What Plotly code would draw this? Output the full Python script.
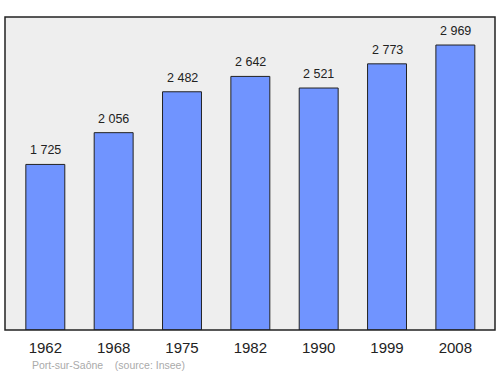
import plotly.graph_objects as go

years = ["1962", "1968", "1975", "1982", "1990", "1999", "2008"]
population = [1725, 2056, 2482, 2642, 2521, 2773, 2969]
labels = ["1 725", "2 056", "2 482", "2 642", "2 521", "2 773", "2 969"]

fig = go.Figure()
fig.add_trace(go.Bar(
    x=list(range(len(years))), y=population, width=0.57,
    marker=dict(color="#7094ff", line=dict(color="#222222", width=1)),
    hoverinfo="skip",
))
for i, (v, t) in enumerate(zip(population, labels)):
    fig.add_annotation(x=i, y=v, text=t, showarrow=False, yanchor="bottom",
                       yshift=5, font=dict(family="Liberation Sans, Arial", size=12.5, color="#222222"))

fig.add_shape(type="rect", xref="paper", yref="paper", x0=0, y0=0, x1=1, y1=1,
              line=dict(color="#222222", width=1.5), layer="above")
fig.add_annotation(xref="paper", yref="paper", x=(30-5)/490, y=-(365-330)/313,
                   xanchor="left", yanchor="middle", showarrow=False,
                   text="Port-sur-Saône    (source: Insee)",
                   font=dict(family="Liberation Sans, Arial", size=10.5, color="#aaaaaa"))

fig.update_layout(
    width=500, height=374,
    margin=dict(l=5, r=5, t=17, b=44),
    paper_bgcolor="white", plot_bgcolor="#eeeeee",
    showlegend=False,
    xaxis=dict(range=[-0.59, 6.58], tickmode="array", tickvals=list(range(len(years))),
               ticktext=years, showgrid=False, zeroline=False, ticks="outside",
               ticklen=4, tickcolor="rgba(0,0,0,0)",
               tickfont=dict(family="Liberation Sans, Arial", size=15, color="#222222")),
    yaxis=dict(range=[0, 3261], showgrid=False, zeroline=False, showticklabels=False),
)
fig.write_html("out.html")
